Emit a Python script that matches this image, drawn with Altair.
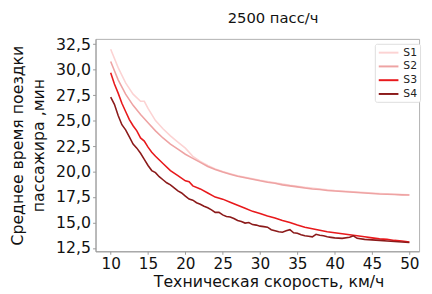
import altair as alt
import pandas as pd

# --- data ---
x_s1 = [10, 11, 12, 13, 14, 14.5, 15, 16, 17, 18, 19, 20, 21, 22, 23, 24, 25, 26, 27, 28, 29, 30,
        32, 34, 36, 38, 40, 42, 44, 46, 48, 50]
y_s1 = [32.0, 30.2, 28.7, 27.6, 26.9, 26.9, 26.2, 25.0, 24.2, 23.5, 22.9, 22.3, 21.5, 21.0, 20.6, 20.25,
        20.0, 19.8, 19.6, 19.45, 19.3, 19.15, 18.9, 18.65, 18.45, 18.3, 18.15, 18.05, 17.95, 17.85, 17.78, 17.72]

x_s2 = [10, 11, 12, 13, 14, 15, 16, 17, 18, 19, 20, 21, 22, 23, 24, 25, 26, 27, 28, 29, 30,
        31, 32, 33, 34, 35, 36, 37, 38, 39, 40, 41, 42, 43, 44, 45, 46, 47, 48, 49, 50]
y_s2 = [30.8, 29.0, 27.6, 26.5, 25.6, 24.8, 24.0, 23.3, 22.7, 22.2, 21.7, 21.3, 20.9, 20.5, 20.2,
        19.95, 19.75, 19.55, 19.4, 19.25, 19.1, 18.95, 18.85, 18.7, 18.6, 18.5, 18.4, 18.3, 18.25,
        18.15, 18.1, 18.05, 18.0, 17.95, 17.9, 17.85, 17.8, 17.78, 17.75, 17.72, 17.7]

x_s3 = [10, 10.5, 11, 11.5, 12, 12.5, 13, 13.5, 14, 14.5, 15, 15.5, 16, 17, 18, 19, 20, 20.5, 21, 22,
        23, 24, 25, 26, 27, 28, 29, 30, 31, 32, 33, 34, 35, 36, 37, 38, 39, 40, 41, 42, 43, 44, 45,
        46, 47, 48, 49, 50]
y_s3 = [29.7, 28.6, 27.7, 26.7, 25.9, 25.1, 24.5, 24.0, 23.3, 23.0, 22.4, 21.9, 21.5, 20.8, 20.1,
        19.6, 19.1, 19.0, 18.6, 18.3, 17.9, 17.5, 17.3, 17.0, 16.7, 16.4, 16.1, 15.9, 15.65, 15.45,
        15.2, 15.0, 14.75, 14.55, 14.4, 14.25, 14.1, 14.0, 13.9, 13.8, 13.7, 13.6, 13.5, 13.4, 13.35,
        13.25, 13.2, 13.1]

x_s4 = [10, 10.5, 11, 11.5, 12, 12.5, 13, 13.5, 14, 14.5, 15, 15.5, 16, 16.5, 17, 17.5, 18, 18.5,
        19, 19.5, 20, 20.5, 21, 21.5, 22, 22.5, 23, 23.5, 24, 24.5, 25, 25.5, 26, 26.5, 27, 27.5,
        28, 28.5, 29, 29.5, 30, 30.5, 31, 31.5, 32, 32.5, 33, 33.5, 34, 34.5, 35, 35.5, 36, 36.5,
        37, 37.5, 38, 38.5, 39, 39.5, 40, 41, 42, 42.5, 43, 44, 45, 46, 47, 48, 49, 50]
y_s4 = [27.3, 26.6, 25.5, 24.6, 24.1, 23.4, 22.7, 22.3, 21.8, 21.2, 20.6, 20.1, 19.9, 19.5, 19.2,
        18.9, 18.7, 18.4, 18.1, 17.9, 17.6, 17.3, 17.2, 16.95, 16.8, 16.6, 16.45, 16.25, 16.0, 16.0,
        15.75, 15.6, 15.55, 15.4, 15.2, 15.1, 14.95, 15.0, 14.8, 14.75, 14.65, 14.6, 14.55, 14.3,
        14.2, 14.1, 14.05, 14.2, 14.3, 14.0, 13.95, 13.8, 13.7, 13.65, 13.6, 13.85, 13.75, 13.7,
        13.6, 13.55, 13.5, 13.45, 13.55, 13.7, 13.45, 13.35, 13.3, 13.25, 13.2, 13.15, 13.1, 13.05]

series_names = ["S1", "S2", "S3", "S4"]
series_colors = ["#fcd3d3", "#eea3a3", "#e8191c", "#8b1a1a"]

y_ticks = [12.5, 15.0, 17.5, 20.0, 22.5, 25.0, 27.5, 30.0, 32.5]
x_ticks = [10, 15, 20, 25, 30, 35, 40, 45, 50]

rows = []
for name, xs, ys in zip(series_names, [x_s1, x_s2, x_s3, x_s4], [y_s1, y_s2, y_s3, y_s4]):
    for i, (a, b) in enumerate(zip(xs, ys)):
        rows.append({"series": name, "x": a, "y": b, "order": i})
df = pd.DataFrame(rows)

FONT = "DejaVu Sans"

chart = alt.Chart(df).mark_line(strokeWidth=1.6, clip=True).encode(
    x=alt.X("x:Q",
            scale=alt.Scale(domain=[7.97, 51.3], nice=False, zero=False),
            axis=alt.Axis(values=x_ticks, title="Техническая скорость, км/ч",
                          labelFontSize=15.5, titleFontSize=16, labelPadding=2,
                          titleX=176, titleY=36, titleAlign="center",
                          titleBaseline="alphabetic", tickSize=3, grid=False)),
    y=alt.Y("y:Q",
            scale=alt.Scale(domain=[12.18, 33.02], nice=False, zero=False),
            axis=alt.Axis(values=y_ticks,
                          labelExpr="replace(format(datum.value, '.1f'), '.', ',')",
                          title=["Среднее время поездки", "пассажира ,мин"],
                          labelFontSize=16, titleFontSize=16, titleLineHeight=22,
                          labelPadding=2, titlePadding=9, tickSize=3, grid=False)),
    color=alt.Color("series:N",
                    scale=alt.Scale(domain=series_names, range=series_colors),
                    legend=alt.Legend(title=None, orient="none", legendX=284, legendY=5,
                                      symbolType="M-1,0H3", symbolSize=100,
                                      symbolStrokeWidth=2, labelFontSize=11,
                                      labelOffset=14, rowPadding=3,
                                      strokeColor="#dddddd", padding=3,
                                      fillColor="white", cornerRadius=2)),
    order="order:Q",
).properties(
    width=329,
    height=216,
    title=alt.TitleParams("2500 пасс/ч", fontSize=15, fontWeight="normal", font=FONT,
                          anchor="middle", dx=16, offset=11, color="#111111"),
    autosize=alt.AutoSizeParams(type="none"),
    padding={"left": 89, "top": 29, "right": 5, "bottom": 41},
).configure_axis(
    labelFont=FONT, titleFont=FONT, labelColor="#111111", titleColor="#111111",
    titleFontWeight="normal", domainColor="#9a9a9a", tickColor="#9a9a9a",
).configure_legend(
    labelFont=FONT, labelColor="#222222",
).configure_view(
    stroke="#b0b0b0", strokeWidth=1,
)

chart.save("out.html", embed_options={"renderer": "svg", "actions": False})
